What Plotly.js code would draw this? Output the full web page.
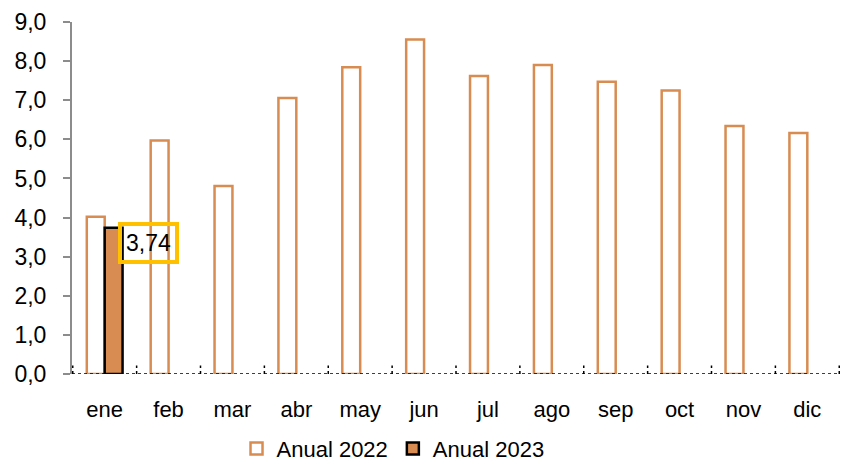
<!DOCTYPE html>
<html>
<head>
<meta charset="utf-8">
<script src="https://cdn.plot.ly/plotly-3.0.1.min.js"></script>
<style>html,body{margin:0;padding:0;background:#fff;}#chart{width:841px;height:463px;}</style>
</head>
<body>
<div id="chart"></div>
<script>
const months = ["ene","feb","mar","abr","may","jun","jul","ago","sep","oct","nov","dic"];
const anual2022 = [4.02, 5.97, 4.81, 7.06, 7.84, 8.55, 7.62, 7.90, 7.47, 7.25, 6.34, 6.16];
const anual2023 = [3.74, null, null, null, null, null, null, null, null, null, null, null];
const seriesNames = ["Anual 2022", "Anual 2023"];
const labelText = "3,74";

const orange = "#D88C52";
const font = "Liberation Sans, Arial, sans-serif";

const traces = [
  {type: "bar", name: seriesNames[0], x: months, y: anual2022,
   marker: {color: "#ffffff", line: {color: orange, width: 2.5}}},
  {type: "bar", name: seriesNames[1], x: months, y: anual2023,
   marker: {color: orange, line: {color: "#000000", width: 2.5}}}
];

const shapes = [{type: "line", xref: "paper", yref: "y", x0: 0, x1: 1, y0: 0, y1: 0,
  line: {color: "#000", width: 1.5, dash: "dot"}}];
for (let i = 0; i <= months.length; i++) {
  shapes.push({type: "line", xref: "x", yref: "y", x0: i - 0.5, x1: i - 0.5, y0: 0, y1: 0.22,
    line: {color: "#000", width: 1.5, dash: "dot"}});
}

const layout = {
  width: 841, height: 463,
  margin: {l: 72, r: 1, t: 22, b: 89, autoexpand: false},
  paper_bgcolor: "#fff", plot_bgcolor: "#fff",
  font: {family: font, size: 22, color: "#000"},
  separators: ",.",
  barmode: "group",
  bargap: 0.44, bargroupgap: 0,
  showlegend: true,
  legend: {orientation: "h", x: 0.418, xanchor: "center", y: -0.212, yanchor: "middle",
    font: {family: font, size: 22, color: "#000"}, itemwidth: 20, traceorder: "normal"},
  xaxis: {type: "category", showgrid: false, zeroline: false, showline: false,
    ticks: "", ticklabelstandoff: 20, tickfont: {family: font, size: 22, color: "#000"}},
  yaxis: {range: [0, 9], dtick: 1, tickformat: ".1f", showgrid: false, zeroline: false,
    showline: true, linecolor: "#8c8c8c", linewidth: 2, ticks: "outside", ticklen: 7,
    tickwidth: 2, tickcolor: "#8c8c8c", ticklabelstandoff: 12,
    tickfont: {family: font, size: 23, color: "#000"}},
  shapes: shapes,
  annotations: [{x: months[0], y: anual2023[0], xref: "x", yref: "y", text: labelText,
    showarrow: false, xanchor: "center", yanchor: "middle", xshift: 44, yshift: -15,
    font: {family: font, size: 23, color: "#000"},
    bordercolor: "#FFC000", borderwidth: 4, borderpad: 4, bgcolor: "rgba(0,0,0,0)"}]
};

Plotly.newPlot("chart", traces, layout, {displayModeBar: false, staticPlot: true});
</script>
</body>
</html>
